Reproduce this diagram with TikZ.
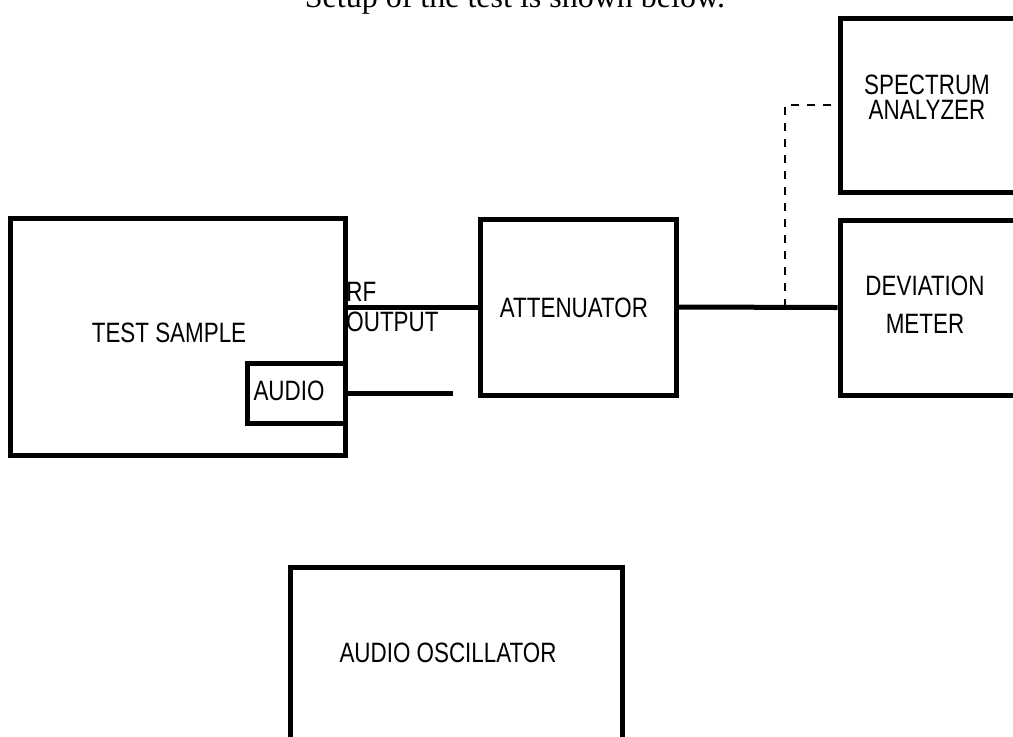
\documentclass[tikz,border=0pt]{standalone}
\usepackage{fontspec}
\usepackage{tikz}
\usetikzlibrary{positioning, calc}
\newfontfamily\labelfont[FakeStretch=0.8]{Liberation Sans}
\newfontfamily\titlefont{Liberation Serif}

\begin{document}
\begin{tikzpicture}[
    x=0.5pt, y=-0.5pt,
    block/.style={rectangle, draw=black, line width=2.5pt, inner sep=0pt, minimum width=#1},
    lbl/.style={font=\labelfont\fontsize{14pt}{12.5pt}\selectfont, inner sep=0pt, align=center},
    wire/.style={line width=2.5pt},
    tapline/.style={line width=1.3pt, dash pattern=on 4pt off 4pt}
]
    \useasboundingbox (0,0) rectangle (1013,736);
    \clip (0,0) rectangle (1013,736);

    % Caption (cut at the top edge, as in the original)
    \node[font=\titlefont\fontsize{16pt}{18pt}\selectfont, anchor=base, inner sep=0pt] (title) at (515,7) {Setup of the test is shown below.};

    % Blocks
    \node[block=167.5pt, minimum height=118.5pt] (sample) at (177.5,336.5) {};
    \node[block=49pt, minimum height=30pt] (audio) at (296,393) {};
    \node[block=98pt, minimum height=88pt] (atten) at (578,307) {};
    \node[block=100pt, minimum height=87pt] (spectrum) at (940,105) {};
    \node[block=100pt, minimum height=87.5pt] (devmeter) at (940,307.5) {};
    \node[block=166pt, minimum height=96.5pt] (osc) at (456,663.5) {};

    % Block labels
    \node[lbl] (sampletxt) at (169,333) {TEST SAMPLE};
    \node[lbl] (audiotxt) at (289,391) {AUDIO};
    \node[lbl] (attentxt) at (574,308) {ATTENUATOR};
    \node[lbl] (spectxt) at (927,97) {SPECTRUM\\ANALYZER};
    \node[lbl] (devtxt) at (925,305) {DEVIATION\\[6.5pt]METER};
    \node[lbl] (osctxt) at (448,653) {AUDIO OSCILLATOR};
    \node[lbl, anchor=west] (rftxt) at (346,292) {RF};
    \node[lbl, anchor=west] (outtxt) at (346,322) {OUTPUT};

    % Connections
    \coordinate (audioend) at (453,393);
    \coordinate (tap) at (785,307);
    \draw[wire] (sample.east |- atten.west) -- (atten.west);
    \draw[wire] (atten.east) -- (devmeter.west);
    \draw[wire] (audio.east) -- (audioend);
    \draw[tapline] (tap) |- (spectrum.west);

\end{tikzpicture}
\end{document}
